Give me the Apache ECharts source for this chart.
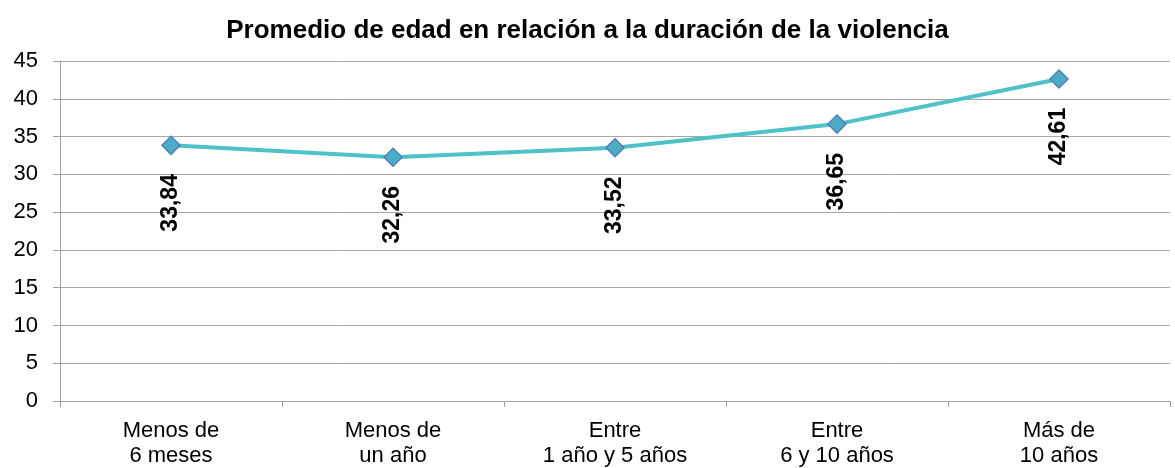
<!DOCTYPE html>
<html>
<head>
<meta charset="utf-8">
<script src="https://cdn.jsdelivr.net/npm/echarts@6/dist/echarts.min.js"></script>
<style>
  html, body { margin: 0; padding: 0; background: #fff; }
  #chart { width: 1175px; height: 468px; }
</style>
</head>
<body>
<div id="chart"></div>
<script>
const titleText = 'Promedio de edad en relación a la duración de la violencia';
const categories = ['Menos de\n6 meses', 'Menos de\nun año', 'Entre\n1 año y 5 años', 'Entre\n6 y 10 años', 'Más de\n10 años'];
const edadPromedio = [33.84, 32.26, 33.52, 36.65, 42.61];
const yTicks = { min: 0, max: 45, interval: 5 };

const fontStack = 'Liberation Sans, Arial, sans-serif';

const chart = echarts.init(document.getElementById('chart'));
chart.setOption({
  backgroundColor: '#ffffff',
  animation: false,
  title: {
    text: titleText,
    left: 'center',
    top: 13,
    textStyle: { fontFamily: fontStack, fontWeight: 'bold', fontSize: 26, color: '#000' }
  },
  grid: { left: 60, right: 5, top: 61, bottom: 65 },
  xAxis: {
    type: 'category',
    data: categories,
    boundaryGap: true,
    axisLine: { lineStyle: { color: '#a0a0a0', width: 1 } },
    axisTick: { show: true, alignWithLabel: false, length: 6, lineStyle: { color: '#a0a0a0' } },
    axisLabel: {
      color: '#000', fontSize: 22, lineHeight: 25, margin: 17,
      fontFamily: fontStack
    }
  },
  yAxis: {
    type: 'value',
    min: yTicks.min, max: yTicks.max, interval: yTicks.interval,
    axisLine: { show: true, lineStyle: { color: '#a0a0a0', width: 1 } },
    axisTick: { show: true, length: 7, lineStyle: { color: '#a0a0a0' } },
    splitLine: { lineStyle: { color: '#a6a6a6', width: 1 } },
    axisLabel: {
      color: '#000', fontSize: 22, margin: 22,
      fontFamily: fontStack
    }
  },
  series: [{
    type: 'line',
    data: edadPromedio,
    symbol: 'diamond',
    symbolSize: 18,
    lineStyle: { color: '#4fc1c9', width: 4 },
    itemStyle: { color: '#4bacc6', borderColor: '#4f81bd', borderWidth: 1.5 },
    label: {
      show: true,
      position: 'bottom',
      distance: 22,
      offset: [3, 0],
      rotate: 90,
      align: 'right',
      verticalAlign: 'middle',
      fontSize: 23,
      fontWeight: 'bold',
      color: '#000',
      fontFamily: fontStack,
      formatter: p => p.value.toFixed(2).replace('.', ',')
    }
  }]
});
</script>
</body>
</html>
